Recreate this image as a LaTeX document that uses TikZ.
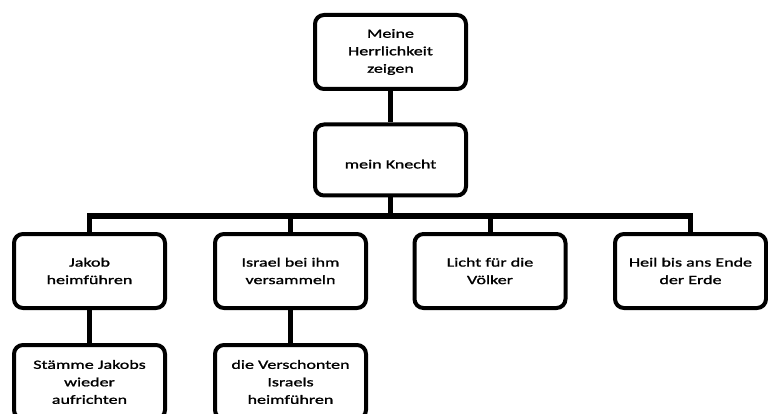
\documentclass[tikz,border=0pt]{standalone}
\usepackage{fontspec}
\setmainfont{Carlito}[FakeStretch=1.43,FakeBold=1.3]
\begin{document}
\begin{tikzpicture}[x=1pt,y=-1pt,
  box/.style={draw=black,line width=4pt,rounded corners=9pt,fill=white,
    minimum width=151pt,minimum height=74pt,align=center,inner sep=2pt,
    font=\fontsize{12.6}{17.5}\selectfont},
  conn/.style={line width=5pt}]
\useasboundingbox (0,0) rectangle (768,414);
\clip (0,0) rectangle (768,414);
\fill[white] (0,0) rectangle (768,414);
\coordinate (bus) at (0,216);
\node[box] (top) at (390.5,52) {Meine\\Herrlichkeit\\zeigen};
\node[box,minimum height=71pt] (kn) at (390.5,160) {\rule{0pt}{17pt}mein Knecht};
\node[box] (a) at (89.5,271) {Jakob\\heimführen};
\node[box] (b) at (290.5,271) {Israel bei ihm\\versammeln};
\node[box] (c) at (490,271) {Licht für die\\Völker};
\node[box] (d) at (690.5,271) {Heil bis ans Ende\\der Erde};
\node[box] (a2) at (89.5,382) {Stämme Jakobs\\wieder\\aufrichten};
\node[box] (b2) at (290.5,382) {die Verschonten\\Israels\\heimführen};
\draw[conn] (top.south) -- (kn.north);
\draw[conn] (kn.south) -- (kn.south |- bus);
\draw[conn,line cap=rect] (a.north |- bus) -- (d.north |- bus);
\draw[conn] (a.north |- bus) -- (a.north);
\draw[conn] (b.north |- bus) -- (b.north);
\draw[conn] (c.north |- bus) -- (c.north);
\draw[conn] (d.north |- bus) -- (d.north);
\draw[conn] (a.south) -- (a2.north);
\draw[conn] (b.south) -- (b2.north);
\end{tikzpicture}
\end{document}
